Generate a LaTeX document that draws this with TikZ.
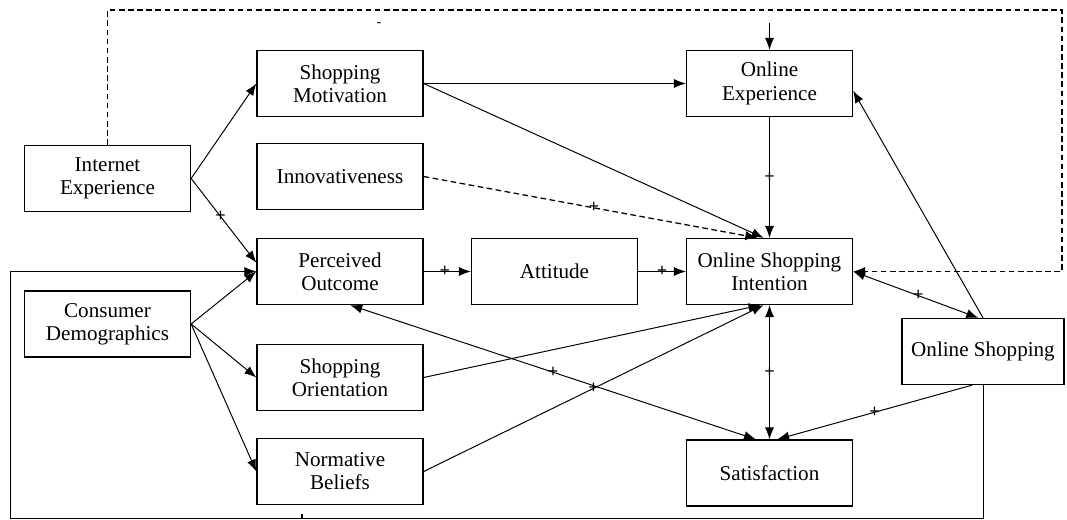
\documentclass[tikz,border=0pt]{standalone}
\usepackage{fontspec}
\setmainfont{Liberation Serif}
\usetikzlibrary{arrows.meta}

\begin{document}
\begin{tikzpicture}[x=0.025cm,y=-0.025cm,>={Latex[length=8.5pt,width=6.5pt]},
    var box/.style={draw,line width=0.9pt,minimum width=4.15cm,minimum height=1.65cm,
        inner sep=0pt,align=center,font=\fontsize{15}{16.5}\selectfont},
    link/.style={->,line width=0.7pt},
    loop line/.style={link,line width=0.9pt,dash pattern=on 4pt off 2.5pt},
    plus mark/.style={font=\fontsize{13}{13}\selectfont\bfseries,inner sep=0pt}]
    \useasboundingbox (0,0) rectangle (1067,520);
    \node[var box] (inet) at (107.5,178.5) {Internet\\Experience};
    \node[var box] (demog) at (107.5,324) {Consumer\\Demographics};
    \node[var box] (motiv) at (340,83.5) {Shopping\\Motivation};
    \node[var box] (innov) at (340,176.5) {Innovativeness};
    \node[var box] (outcome) at (340,271.5) {Perceived\\Outcome};
    \node[var box] (orient) at (340,377.5) {Shopping\\Orientation};
    \node[var box] (norm) at (340,471.5) {Normative\\Beliefs};
    \node[var box] (att) at (554.5,271.5) {Attitude};
    \node[var box] (onexp) at (769.5,83.5) {Online\\Experience};
    \node[var box] (intent) at (769.5,271.5) {Online Shopping\\Intention};
    \node[var box] (satis) at (769.5,473) {Satisfaction};
    \node[var box,minimum width=4.05cm] (shop) at (983,351.5) {Online Shopping};

    \draw[link] (inet.east) -- (motiv.west);
    \draw[link] (inet.east) -- (outcome.174) node[plus mark,pos=0.45] {+};
    \draw[link] (demog.east) -- (outcome.west);
    \draw[link] (demog.east) -- (orient.west);
    \draw[link] (demog.east) -- (norm.west);
    \draw[link] (motiv.east) -- (onexp.west);
    \draw[link] (motiv.east) -- (intent.100);
    \draw[loop line] (innov.east) -- (intent.110) node[plus mark,pos=0.51] {+};
    \draw[link] (onexp.south) -- (intent.north) node[plus mark,midway] {+};
    \draw[link] (outcome.east) -- (att.west) node[plus mark,pos=0.45] {+};
    \draw[link] (att.east) -- (intent.west) node[plus mark,pos=0.5] {+};
    \draw[link] (orient.east) -- (intent.-105);
    \draw[link] (norm.east) -- (intent.-100) node[plus mark,pos=0.5] {+};
    \draw[link,<->] (outcome.-73) -- (satis.112) node[plus mark,pos=0.5] {+};
    \draw[link,<->] (intent.south) -- (satis.north) node[plus mark,midway] {+};
    \draw[link] (shop.-108) -- (satis.77) node[plus mark,pos=0.5] {+};
    \draw[link,<->] (intent.east) -- (shop.98) node[plus mark,pos=0.52] {+};
    \draw[link] (shop.north) -- (onexp.-5);

    % feedback loops round the outside
    \draw[link] (shop.south) |- (10,518) |- (outcome.west);
    \draw[loop line] (inet.north) |- (1062,10) |- (intent.east);
    \coordinate (drop) at (769.5,23);
    \draw[link] (drop) -- (onexp.north);
    \node (minus) at (379,25) {-};
    \coordinate (tick) at (302,518);
    \draw[line width=1.2pt] (tick) -- ++(0,-4);
\end{tikzpicture}
\end{document}
